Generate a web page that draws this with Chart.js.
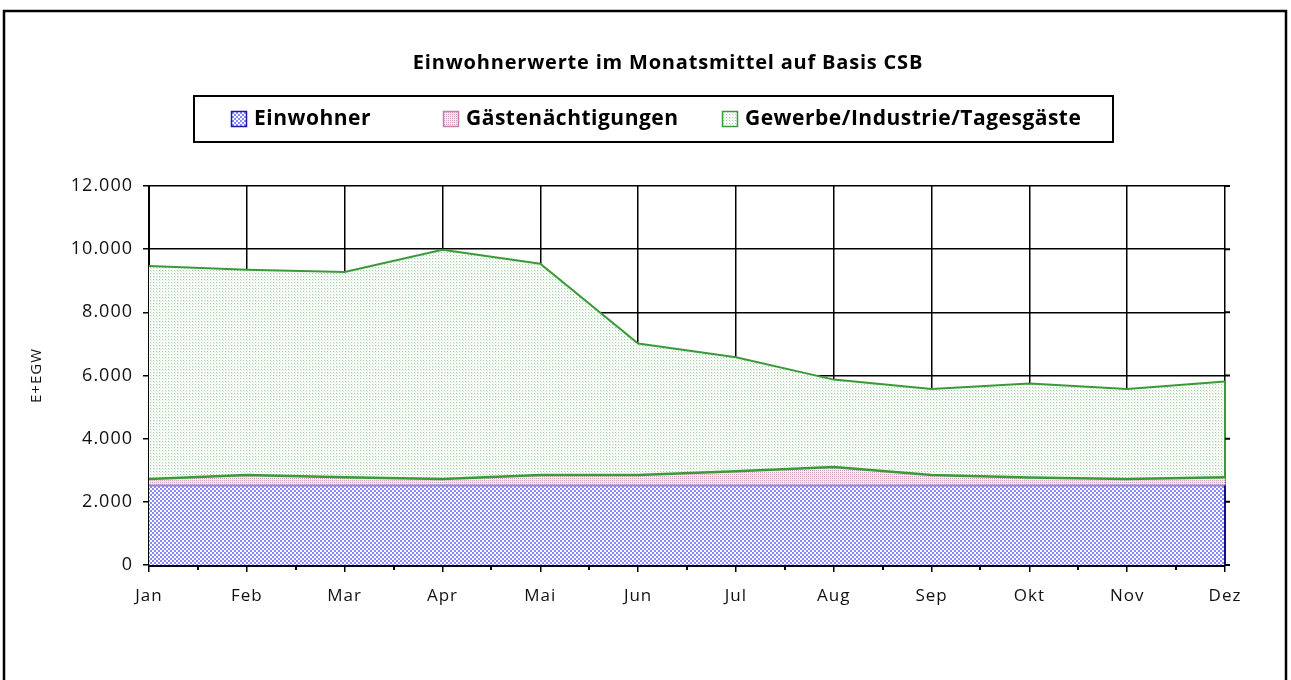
<!DOCTYPE html>
<html>
<head>
<meta charset="utf-8">
<script src="https://cdn.jsdelivr.net/npm/chart.js@4"></script>
<style>
  html, body { margin: 0; padding: 0; background: #fff; }
  #wrap { width: 1291px; height: 680px; }
</style>
</head>
<body>
<div id="wrap"><canvas id="ewChart" width="1291" height="680"></canvas></div>
<script>
const months = ['Jan', 'Feb', 'Mar', 'Apr', 'Mai', 'Jun', 'Jul', 'Aug', 'Sep', 'Okt', 'Nov', 'Dez'];
const einwohner = [2520, 2520, 2520, 2520, 2520, 2520, 2520, 2520, 2520, 2520, 2520, 2520];
const gaeste = [200, 330, 260, 200, 330, 330, 450, 580, 330, 250, 200, 260];
const gewerbe = [6750, 6500, 6500, 7260, 6690, 4160, 3610, 2770, 2720, 2980, 2850, 3030];
const seriesNames = ['Einwohner', 'Gästenächtigungen', 'Gewerbe/Industrie/Tagesgäste'];
const yTicks = [0, 2000, 4000, 6000, 8000, 10000, 12000];

const FONT = '"Open Sans", "Noto Sans", sans-serif';

// small repeating fills, like the old office hatch patterns
function makePattern(size, paint) {
    const c = document.createElement('canvas');
    c.width = size; c.height = size;
    const g = c.getContext('2d');
    paint(g);
    return g.createPattern(c, 'repeat');
}
const pBlue = makePattern(4, g => {
    g.fillStyle = '#ffffff'; g.fillRect(0, 0, 4, 4);
    g.fillStyle = '#8888ff'; g.fillRect(0, 0, 2, 2); g.fillRect(2, 2, 2, 2);
});
const pPink = makePattern(2, g => {
    g.fillStyle = '#f6e8f0'; g.fillRect(0, 0, 2, 2);
    g.fillStyle = '#d4a3c4'; g.fillRect(0, 0, 1, 1);
});
const pGreen = makePattern(3, g => {
    g.fillStyle = '#fbfefb'; g.fillRect(0, 0, 3, 3);
    g.fillStyle = '#9fd09f'; g.fillRect(0, 0, 1, 1);
    g.fillStyle = '#d6ecd6'; g.fillRect(1, 1, 1, 1);
});

const fills = [pBlue, pPink, pGreen];
const swatchBorders = ['#1a1aa0', '#c27fb6', '#3a9a3a'];

// white page, outer frame, title, boxed legend, extra tick marks
const decor = {
    id: 'decor',
    beforeDraw(chart) {
        const ctx = chart.ctx;
        ctx.fillStyle = '#fff';
        ctx.fillRect(0, 0, chart.width, chart.height);
        // axis labels are set a little wide
        ctx.letterSpacing = '1px';
    },
    afterDraw(chart) {
        const ctx = chart.ctx;
        const area = chart.chartArea;
        const x = chart.scales.x, y = chart.scales.y;
        ctx.save();
        ctx.letterSpacing = '0px';

        // right edges of the areas
        ctx.lineWidth = 2;
        ctx.strokeStyle = '#10108a';
        ctx.beginPath();
        ctx.moveTo(area.right, y.getPixelForValue(0));
        ctx.lineTo(area.right, y.getPixelForValue(einwohner[11]));
        ctx.stroke();
        ctx.strokeStyle = '#3a9a3a';
        ctx.beginPath();
        ctx.moveTo(area.right, y.getPixelForValue(einwohner[11] + gaeste[11]));
        ctx.lineTo(area.right, y.getPixelForValue(einwohner[11] + gaeste[11] + gewerbe[11]));
        ctx.stroke();

        // minor ticks between months, tick stubs on the right
        ctx.strokeStyle = '#000';
        ctx.lineWidth = 2;
        ctx.beginPath();
        for (let i = 0; i < months.length - 1; i++) {
            const px = Math.round(x.getPixelForValue(i + 0.5));
            ctx.moveTo(px, area.bottom);
            ctx.lineTo(px, area.bottom + 5);
        }
        yTicks.forEach(v => {
            const py = y.getPixelForValue(v);
            ctx.moveTo(area.right, py);
            ctx.lineTo(area.right + 5, py);
        });
        ctx.stroke();

        // outer frame
        ctx.lineWidth = 2.5;
        ctx.strokeRect(4, 11, 1282, 700);

        // title
        ctx.fillStyle = '#000';
        ctx.font = 'bold 20px ' + FONT;
        ctx.letterSpacing = '0.8px';
        ctx.textAlign = 'center';
        ctx.textBaseline = 'middle';
        ctx.fillText('Einwohnerwerte im Monatsmittel auf Basis CSB', 668, 63);

        // legend box
        ctx.lineWidth = 2;
        ctx.strokeRect(194, 96, 919, 46);
        const itemX = [231, 443, 722];
        ctx.font = 'bold 21px ' + FONT;
        ctx.letterSpacing = '0.5px';
        ctx.textAlign = 'left';
        seriesNames.forEach((name, i) => {
            ctx.fillStyle = fills[i];
            ctx.fillRect(itemX[i], 111, 16, 16);
            ctx.strokeStyle = swatchBorders[i];
            ctx.lineWidth = 1.5;
            ctx.strokeRect(itemX[i] + 0.5, 111.5, 15, 15);
            ctx.fillStyle = '#000';
            ctx.fillText(name, itemX[i] + 23, 119);
        });
        ctx.restore();
    }
};

const ctx = document.getElementById('ewChart').getContext('2d');
new Chart(ctx, {
    type: 'line',
    data: {
        labels: months,
        datasets: [
            {
                label: seriesNames[0],
                data: einwohner,
                backgroundColor: pBlue,
                borderColor: '#9a86d2',
                borderWidth: 2,
                fill: 'origin'
            },
            {
                label: seriesNames[1],
                data: gaeste,
                backgroundColor: pPink,
                borderColor: '#3a9a3a',
                borderWidth: 2.5,
                fill: '-1'
            },
            {
                label: seriesNames[2],
                data: gewerbe,
                backgroundColor: pGreen,
                borderColor: '#3a9a3a',
                borderWidth: 2,
                fill: '-1'
            }
        ]
    },
    options: {
        responsive: false,
        animation: false,
        devicePixelRatio: 1,
        layout: {
            padding: { left: 28, right: 66, top: 186, bottom: 0 }
        },
        elements: {
            point: { radius: 0, hoverRadius: 0 },
            line: { tension: 0 }
        },
        plugins: {
            legend: { display: false },
            title: { display: false },
            tooltip: { enabled: false }
        },
        scales: {
            x: {
                offset: false,
                afterFit: scale => { scale.height = 115; },
                grid: {
                    color: '#000',
                    lineWidth: 1.5,
                    tickLength: 7,
                    drawTicks: true
                },
                border: { color: '#000', width: 3 },
                ticks: {
                    color: '#111',
                    font: { family: FONT, size: 17 },
                    padding: 14,
                    maxRotation: 0,
                    autoSkip: false
                }
            },
            y: {
                stacked: true,
                min: 0,
                max: 12000,
                afterFit: scale => { scale.width = 121; },
                afterBuildTicks: scale => { scale.ticks = yTicks.map(v => ({ value: v })); },
                grid: {
                    color: '#000',
                    lineWidth: 1.5,
                    tickLength: 6
                },
                border: { color: '#000', width: 2 },
                ticks: {
                    color: '#111',
                    font: { family: FONT, size: 18 },
                    padding: 10,
                    callback: v => String(v).replace(/\B(?=(\d{3})+(?!\d))/g, '.')
                },
                title: {
                    display: true,
                    text: 'E+EGW',
                    color: '#111',
                    font: { family: FONT, size: 15 },
                    padding: { top: 0, bottom: 0 }
                }
            }
        }
    },
    plugins: [decor]
});
</script>
</body>
</html>
